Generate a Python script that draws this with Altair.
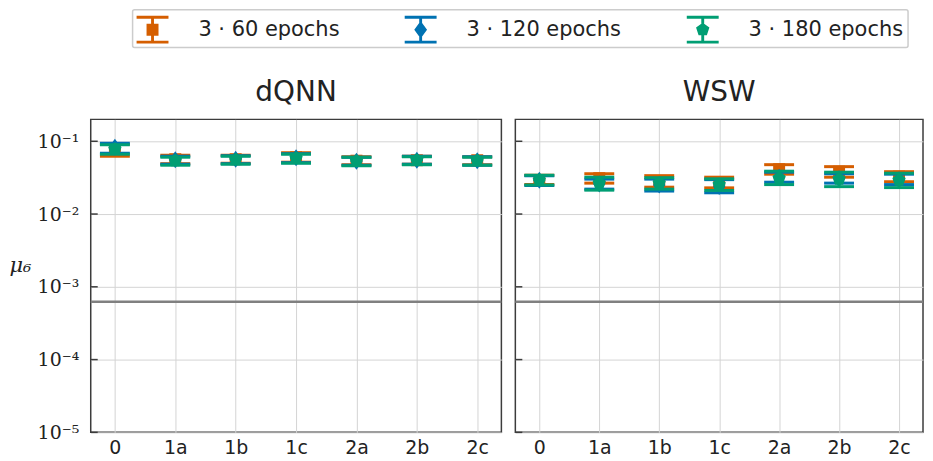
import altair as alt
import pandas as pd

categories = ["0", "1a", "1b", "1c", "2a", "2b", "2c"]
series = ["3 · 60 epochs", "3 · 120 epochs", "3 · 180 epochs"]
colors = ["#d55e00", "#0072b2", "#009e73"]

# dQNN panel: mean and error-bar ends per series
dqnn_mean_60 = [0.0765, 0.0567, 0.0567, 0.0603, 0.0541, 0.0549, 0.0549]
dqnn_low_60 = [0.0623, 0.0492, 0.0499, 0.0516, 0.0476, 0.0484, 0.0476]
dqnn_high_60 = [0.0910, 0.0643, 0.0643, 0.0696, 0.0613, 0.0623, 0.0613]
dqnn_mean_120 = [0.0828, 0.0558, 0.0567, 0.0594, 0.0532, 0.0549, 0.0541]
dqnn_low_120 = [0.0685, 0.0484, 0.0492, 0.0508, 0.0469, 0.0484, 0.0469]
dqnn_high_120 = [0.0939, 0.0623, 0.0633, 0.0675, 0.0604, 0.0623, 0.0613]
dqnn_mean_180 = [0.0777, 0.0541, 0.0558, 0.0585, 0.0532, 0.0549, 0.0541]
dqnn_low_180 = [0.0664, 0.0469, 0.0484, 0.0499, 0.0462, 0.0476, 0.0469]
dqnn_high_180 = [0.0896, 0.0604, 0.0623, 0.0664, 0.0604, 0.0613, 0.0604]

# WSW panel
wsw_mean_60 = [0.0292, 0.0311, 0.0283, 0.0270, 0.0413, 0.0382, 0.0327]
wsw_low_60 = [0.0254, 0.0266, 0.0234, 0.0229, 0.0353, 0.0321, 0.0278]
wsw_high_60 = [0.0342, 0.0358, 0.0337, 0.0321, 0.0477, 0.0448, 0.0382]
wsw_mean_120 = [0.0292, 0.0258, 0.0250, 0.0238, 0.0321, 0.0307, 0.0297]
wsw_low_120 = [0.0246, 0.0220, 0.0207, 0.0196, 0.0274, 0.0266, 0.0254]
wsw_high_120 = [0.0337, 0.0302, 0.0302, 0.0297, 0.0376, 0.0358, 0.0353]
wsw_mean_180 = [0.0292, 0.0266, 0.0266, 0.0254, 0.0311, 0.0302, 0.0292]
wsw_low_180 = [0.0250, 0.0213, 0.0220, 0.0211, 0.0254, 0.0238, 0.0231]
wsw_high_180 = [0.0342, 0.0321, 0.0316, 0.0305, 0.0388, 0.0376, 0.0364]

reference_level = [6.24e-4]
y_ticks = [1e-5, 1e-4, 1e-3, 1e-2, 1e-1]

marker_shapes = [
    "square",
    "M0,-1L0.72,0L0,1L-0.72,0Z",
    "M0,-1L0.951,-0.309L0.588,0.809L-0.588,0.809L-0.951,-0.309Z",
]
marker_sizes = [144, 289, 196]

ibeam = "M-1,-0.875H1V-0.69H-1Z M-1,0.69H1V0.875H-1Z M-0.09,-0.7H0.09V0.7H-0.09Z "
legend_paths = [
    ibeam + "M-0.375,-0.375H0.375V0.375H-0.375Z",
    ibeam + "M0,-0.55L0.4,0L0,0.55L-0.4,0Z",
    ibeam + "M0,-0.44L0.418,-0.136L0.259,0.356L-0.259,0.356L-0.418,-0.136Z",
]

xscale = alt.Scale(type="point", padding=0.4, domain=categories)
yscale = alt.Scale(type="log", domain=[1e-5, 0.2])

xaxis = alt.Axis(labelFont="DejaVu Sans", labelFontSize=19, labelColor="#222222",
                 labelPadding=6, ticks=False, domain=False, grid=True,
                 gridColor="#d4d4d4", gridWidth=1, labelAngle=0, title=None)

label_expr = "'10' + ['⁻⁵','⁻⁴','⁻³','⁻²','⁻¹'][round(log(datum.value)/LN10) + 5]"


def yaxis(show):
    if show:
        return alt.Axis(values=y_ticks, labelExpr=label_expr, grid=True,
                        gridColor="#d4d4d4", gridWidth=1, ticks=False, domain=False,
                        labelFont="DejaVu Serif", labelFontSize=19,
                        labelColor="#222222", labelPadding=12,
                        title="μ₆", titleAngle=0, titleFont="DejaVu Serif",
                        titleFontStyle="italic", titleFontWeight="normal",
                        titleFontSize=21, titleColor="#222222", titleAlign="left",
                        titleBaseline="middle", titleX=-82, titleY=147)
    return alt.Axis(values=y_ticks, grid=True, gridColor="#d4d4d4", gridWidth=1,
                    ticks=False, domain=False, labels=False, title=None)


def panel(title, means, lows, highs, width, show_y, with_legend):
    ya = yaxis(show_y)
    layers = []
    ref_df = pd.DataFrame({"v": reference_level})
    layers.append(
        alt.Chart(ref_df).mark_rule(color="#808080", strokeWidth=2.5).encode(
            y=alt.Y("v:Q", scale=yscale, axis=ya)
        )
    )
    tick_df = pd.DataFrame({"v": y_ticks})
    layers.append(
        alt.Chart(tick_df).mark_rule(color="#3c3c3c", strokeWidth=1.5).encode(
            x=alt.value(0), x2=alt.value(7),
            y=alt.Y("v:Q", scale=yscale, axis=ya)
        )
    )
    for i in range(3):
        df = pd.DataFrame({"cat": categories, "v": means[i], "lo": lows[i], "hi": highs[i]})
        base = alt.Chart(df)
        x = alt.X("cat:N", scale=xscale, axis=xaxis, sort=categories)
        layers.append(
            base.mark_rule(color=colors[i], strokeWidth=3).encode(
                x=x, y=alt.Y("lo:Q", scale=yscale, axis=ya), y2="hi:Q"
            )
        )
        layers.append(
            base.mark_tick(color=colors[i], size=30, thickness=3, opacity=1).encode(
                x=x, y=alt.Y("lo:Q", scale=yscale, axis=ya)
            )
        )
        layers.append(
            base.mark_tick(color=colors[i], size=30, thickness=3, opacity=1).encode(
                x=x, y=alt.Y("hi:Q", scale=yscale, axis=ya)
            )
        )
        layers.append(
            base.mark_point(shape=marker_shapes[i], size=marker_sizes[i], filled=True,
                            color=colors[i], opacity=1, strokeWidth=0).encode(
                x=x, y=alt.Y("v:Q", scale=yscale, axis=ya)
            )
        )
    if with_legend:
        leg_df = pd.DataFrame({"s": series, "cat": [categories[0]] * 3, "v": [1e-7] * 3})
        leg = alt.Legend(title=None, orient="none", legendX=42, legendY=-110,
                         direction="horizontal", columns=3)
        layers.append(
            alt.Chart(leg_df).mark_point(filled=True, clip=True, strokeWidth=0).encode(
                x=alt.X("cat:N", scale=xscale, axis=xaxis, sort=categories),
                y=alt.Y("v:Q", scale=yscale, axis=ya),
                color=alt.Color("s:N", scale=alt.Scale(domain=series, range=colors), legend=leg),
                shape=alt.Shape("s:N", scale=alt.Scale(domain=series, range=legend_paths), legend=leg),
            )
        )
    return alt.layer(*layers).properties(
        width=width, height=314,
        title=alt.TitleParams(title, fontSize=28, font="DejaVu Sans", fontWeight="normal",
                              color="#222222", offset=12, anchor="middle"),
    )


left = panel("dQNN",
             [dqnn_mean_60, dqnn_mean_120, dqnn_mean_180],
             [dqnn_low_60, dqnn_low_120, dqnn_low_180],
             [dqnn_high_60, dqnn_high_120, dqnn_high_180],
             412, True, True)
right = panel("WSW",
              [wsw_mean_60, wsw_mean_120, wsw_mean_180],
              [wsw_low_60, wsw_low_120, wsw_low_180],
              [wsw_high_60, wsw_high_120, wsw_high_180],
              409, False, False)

chart = alt.hconcat(left, right, spacing=10).properties(padding=0).configure_view(
    stroke="#3c3c3c", strokeWidth=1.5
).configure_legend(
    symbolSize=1024, symbolStrokeWidth=0, symbolOpacity=1,
    labelFont="DejaVu Sans", labelFontSize=21, labelColor="#222222",
    labelOffset=30, columnPadding=65, padding=4,
    strokeColor="#cccccc", strokeWidth=1.5, cornerRadius=2
)

chart.save("out.html", embed_options={"renderer": "svg", "actions": False})
